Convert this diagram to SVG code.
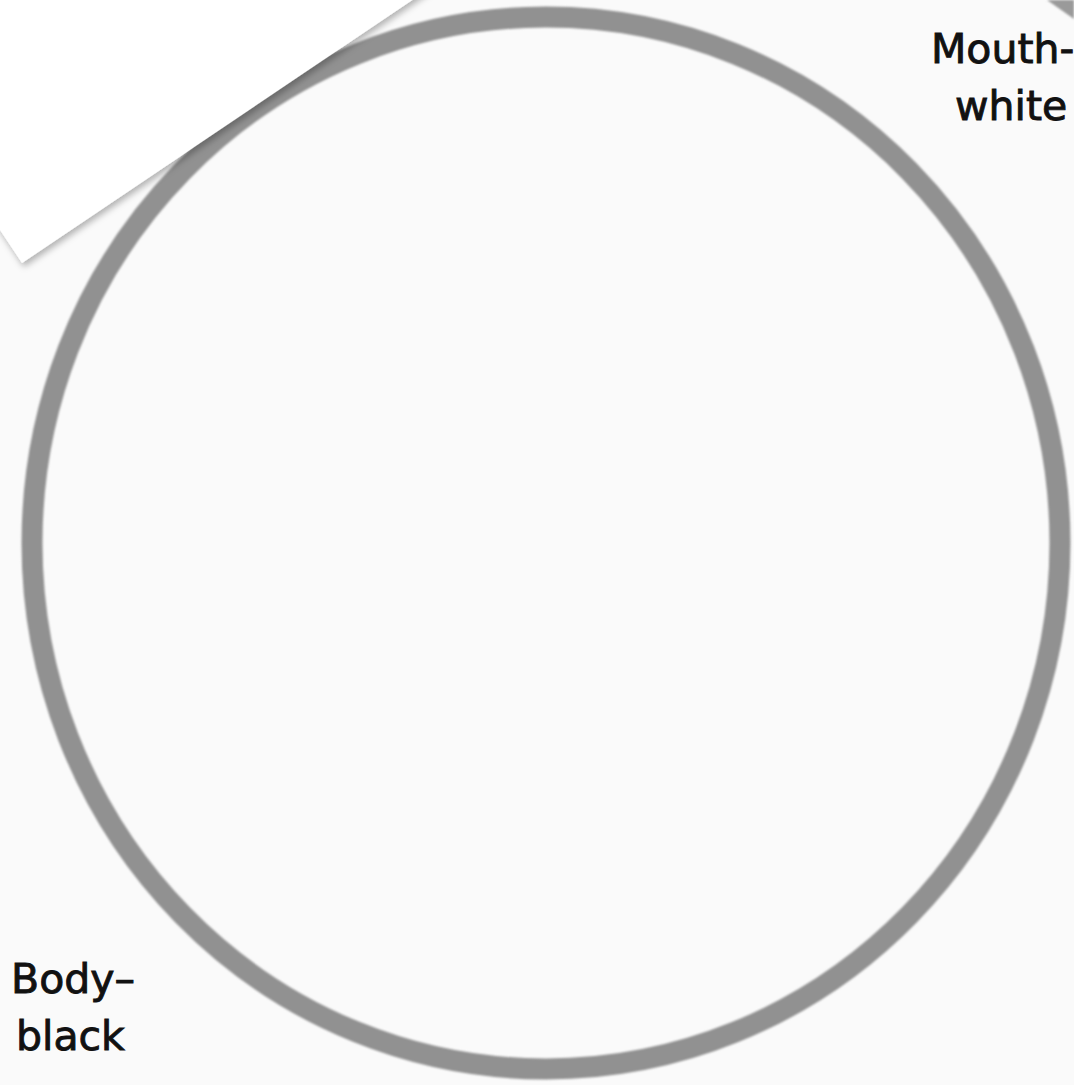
<svg xmlns="http://www.w3.org/2000/svg" width="1074" height="1085" viewBox="0 0 1074 1085">
<defs>
<style>
.lbl{font-family:"DejaVu Sans","Liberation Sans",sans-serif;font-size:41px;fill:#111;stroke:#111;stroke-width:0.9px}
</style>
<filter id="sh" x="-20%" y="-20%" width="140%" height="140%">
<feDropShadow dx="2" dy="4" stdDeviation="3" flood-color="#000" flood-opacity="0.28"/>
</filter>
<filter id="bl"><feGaussianBlur stdDeviation="0.8"/></filter>
</defs>
<rect width="1074" height="1085" fill="#fafafa"/>
<g id="corner-shape">
<polygon points="1047,0 1074,0 1074,19" fill="#9a9a9a" filter="url(#bl)"/>
</g>
<g id="ring">
<ellipse cx="546" cy="543" rx="514" ry="526" fill="none" stroke="#919191" stroke-width="21" filter="url(#bl)"/>
</g>
<g id="paper">
<polygon points="22,263 491,-53 214,-469 -255,-153" fill="#ffffff" filter="url(#sh)"/>
</g>
<g id="label-mouth">
<text class="lbl" x="931" y="63">Mouth-</text>
<text class="lbl" x="955" y="120">white</text>
</g>
<g id="label-body">
<text class="lbl" x="11" y="993">Body–</text>
<text class="lbl" x="16" y="1050">black</text>
</g>
<g id="connectors"></g>
</svg>
